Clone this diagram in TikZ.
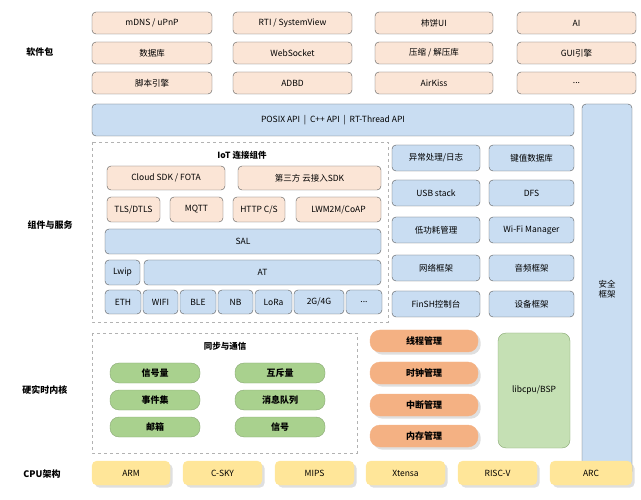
\documentclass[tikz,border=0pt]{standalone}
\usepackage{fontspec}
\setmainfont{Noto Sans CJK SC}
\usetikzlibrary{shadows}
\definecolor{peach}{HTML}{FBE5D6}
\definecolor{lblue}{HTML}{C9DDF2}
\definecolor{lgreen}{HTML}{A9D18E}
\definecolor{bgreen}{HTML}{C5E0B4}
\definecolor{orng}{HTML}{F4B183}
\definecolor{lyel}{HTML}{FFE699}
\tikzset{
  base/.style={draw=gray!70!black, rounded corners=4pt, inner sep=0pt, font=\fontsize{8.5}{10}\selectfont},
  pkg/.style={base, fill=peach},
  blu/.style={base, fill=lblue},
  grn/.style={base, fill=lgreen, draw=lgreen!80!black, rounded corners=9pt, font=\fontsize{9}{10}\bfseries\selectfont},
  org/.style={base, fill=orng, draw=orng, rounded corners=10pt, drop shadow={opacity=0.25}, font=\fontsize{9}{10}\bfseries\selectfont},
  cpu/.style={base, fill=lyel, draw=lyel, rounded corners=5pt, drop shadow={opacity=0.25}},
  libbox/.style={base, fill=bgreen, draw=lgreen!80!black, rounded corners=8pt},
  group/.style={draw=gray!60, dashed},
  layer/.style={font=\fontsize{9}{10}\bfseries\selectfont},
  title/.style={font=\fontsize{8.5}{10}\bfseries\selectfont}
}
% box from corner (x1,y1) to (x2,y2), in pixels
\newcommand{\bx}[7]{\node[#2, minimum width={(#5-#3)*1pt}, minimum height={(#6-#4)*1pt}] (#1) at ({(#3+#5)/2},{(#4+#6)/2}) {#7};}
\begin{document}
\begin{tikzpicture}[x=1pt,y=-1pt]
\useasboundingbox (0,0) rectangle (641,500);
%%% layer labels
\node[layer] (lpkg) at (40,52) {软件包};
\node[layer] (lsvc) at (50,225) {组件与服务};
\node[layer] (lker) at (45,390) {硬实时内核};
\node[layer] (lcpu) at (42,474) {CPU架构};
%%% software packages
\bx{p11}{pkg}{92}{12}{212}{34}{mDNS / uPnP}
\bx{p12}{pkg}{233}{12}{352}{34}{RTI / SystemView}
\bx{p13}{pkg}{375}{12}{493}{34}{柿饼UI}
\bx{p14}{pkg}{517}{12}{636}{34}{AI}
\bx{p21}{pkg}{92}{42}{212}{64}{数据库}
\bx{p22}{pkg}{233}{42}{352}{64}{WebSocket}
\bx{p23}{pkg}{375}{42}{493}{64}{压缩 / 解压库}
\bx{p24}{pkg}{517}{42}{636}{64}{GUI引擎}
\bx{p31}{pkg}{92}{72}{212}{94}{脚本引擎}
\bx{p32}{pkg}{233}{72}{352}{94}{ADBD}
\bx{p33}{pkg}{375}{72}{493}{94}{AirKiss}
\bx{p34}{pkg}{517}{72}{636}{94}{...}
%%% api and security
\bx{posix}{blu}{92}{104}{574}{136}{POSIX API \ | \ C++ API \ | \ RT-Thread API}
\bx{safe}{blu}{582}{104}{632}{475}{\parbox{2.2em}{\centering 安全\\框架}}
%%% IoT components
\draw[group] (92,142) rectangle (388,322);
\node[title] (iot) at (242,155) {IoT 连接组件};
\bx{cloud}{pkg}{107}{166}{225}{190}{Cloud SDK / FOTA}
\bx{third}{pkg}{238}{166}{381}{190}{第三方 云接入SDK}
\bx{tls}{pkg}{107}{197}{160}{222}{TLS/DTLS}
\bx{mqtt}{pkg}{170}{197}{223}{222}{MQTT}
\bx{http}{pkg}{233}{197}{285}{222}{HTTP C/S}
\bx{lwm}{pkg}{296}{197}{381}{222}{LWM2M/CoAP}
\bx{sal}{blu}{105}{229}{381}{254}{SAL}
\bx{lwip}{blu}{105}{260}{140}{285}{Lwip}
\bx{at}{blu}{144}{260}{381}{285}{AT}
\bx{eth}{blu}{105}{290}{141}{314}{ETH}
\bx{wifi}{blu}{143}{290}{178}{314}{WIFI}
\bx{ble}{blu}{180}{290}{216}{314}{BLE}
\bx{nb}{blu}{218}{290}{253}{314}{NB}
\bx{lora}{blu}{255}{290}{292}{314}{LoRa}
\bx{g4}{blu}{294}{290}{344}{314}{2G/4G}
\bx{more}{blu}{346}{290}{382}{314}{...}
%%% other components
\bx{exc}{blu}{392}{145}{480}{171}{异常处理/日志}
\bx{kv}{blu}{489}{145}{574}{171}{键值数据库}
\bx{usb}{blu}{392}{180}{480}{206}{USB stack}
\bx{dfs}{blu}{489}{180}{574}{206}{DFS}
\bx{pm}{blu}{392}{217}{480}{243}{低功耗管理}
\bx{wm}{blu}{489}{217}{574}{243}{Wi-Fi Manager}
\bx{net}{blu}{392}{255}{480}{281}{网络框架}
\bx{aud}{blu}{489}{255}{574}{281}{音频框架}
\bx{fsh}{blu}{392}{291}{480}{317}{FinSH控制台}
\bx{dev}{blu}{489}{291}{574}{317}{设备框架}
%%% kernel
\draw[group] (92,333) rectangle (357,453);
\node[title] (sync) at (225,346) {同步与通信};
\bx{sem}{grn}{110}{363}{200}{383}{信号量}
\bx{mtx}{grn}{235}{363}{325}{383}{互斥量}
\bx{evt}{grn}{110}{390}{200}{410}{事件集}
\bx{mq}{grn}{235}{390}{325}{410}{消息队列}
\bx{mb}{grn}{110}{417}{200}{437}{邮箱}
\bx{sig}{grn}{235}{417}{325}{437}{信号}
\bx{thr}{org}{370}{330}{478}{352}{线程管理}
\bx{clk}{org}{370}{362}{478}{384}{时钟管理}
\bx{irq}{org}{370}{394}{478}{416}{中断管理}
\bx{mem}{org}{370}{425}{478}{447}{内存管理}
\bx{bsp}{libbox}{498}{333}{570}{448}{libcpu/BSP}
%%% cpu
\bx{arm}{cpu}{92}{461}{170}{485}{ARM}
\bx{csky}{cpu}{183}{461}{262}{485}{C-SKY}
\bx{mips}{cpu}{275}{461}{354}{485}{MIPS}
\bx{xt}{cpu}{366}{461}{445}{485}{Xtensa}
\bx{rv}{cpu}{458}{461}{537}{485}{RISC-V}
\bx{arc}{cpu}{550}{461}{632}{485}{ARC}
\end{tikzpicture}
\end{document}
